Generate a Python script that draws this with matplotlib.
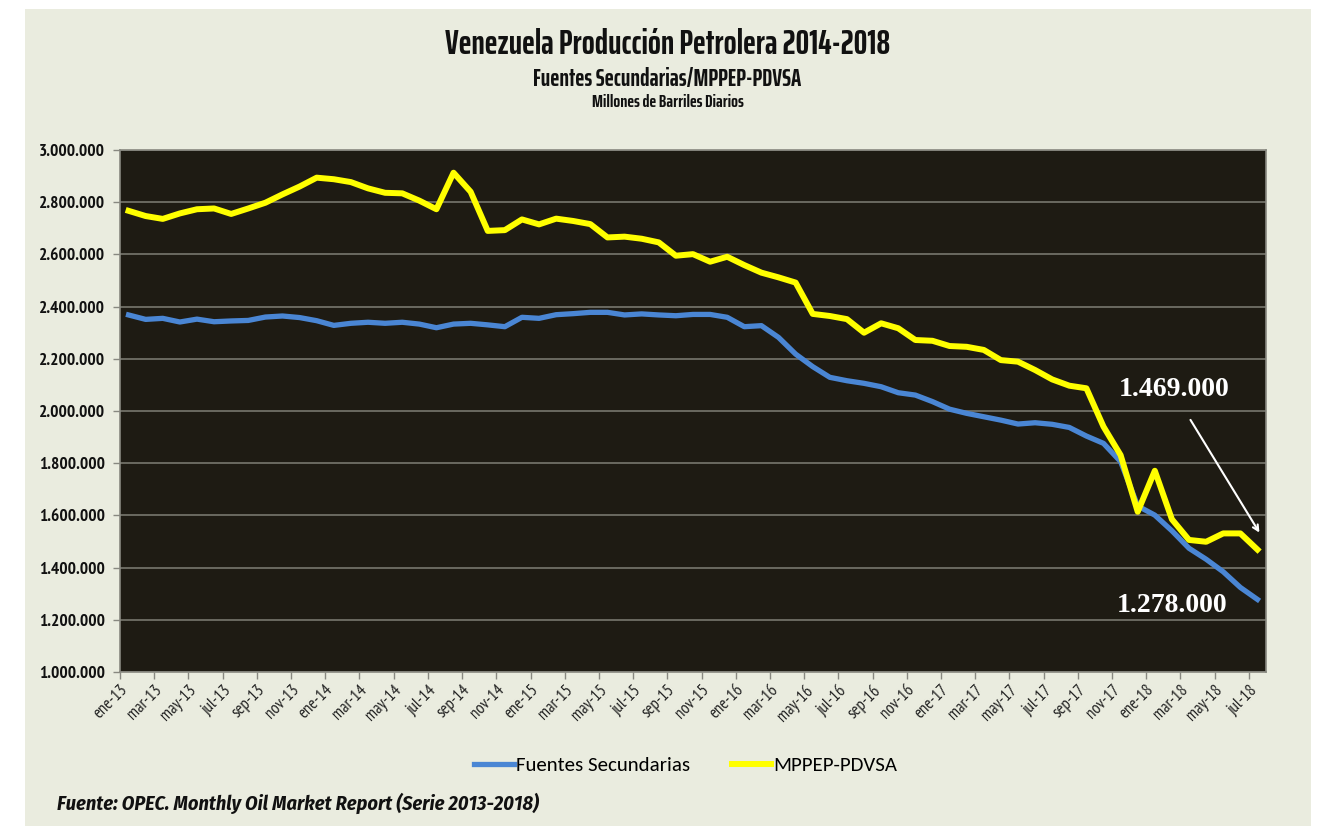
import numpy as np
import matplotlib.pyplot as plt
from matplotlib.patches import Rectangle
from matplotlib.ticker import FuncFormatter

# monthly labels ene-13 .. jul-18
meses = ['ene', 'feb', 'mar', 'abr', 'may', 'jun', 'jul', 'ago', 'sep', 'oct', 'nov', 'dic']
months = [m + '-' + str(y) for y in range(13, 19) for m in meses][:67]

# Fuentes Secundarias (barriles diarios)
secundarias = [2368000, 2351000, 2355000, 2341000, 2352000, 2342000, 2345000, 2347000,
               2360000, 2364000, 2358000, 2346000, 2328000, 2336000, 2340000, 2336000,
               2340000, 2333000, 2319000, 2333000, 2336000, 2330000, 2323000, 2359000,
               2355000, 2369000, 2373000, 2378000, 2378000, 2368000, 2372000, 2368000,
               2365000, 2370000, 2370000, 2359000, 2323000, 2327000, 2282000, 2218000,
               2170000, 2129000, 2116000, 2106000, 2093000, 2070000, 2061000, 2036000,
               2007000, 1991000, 1978000, 1965000, 1950000, 1955000, 1949000, 1937000,
               1904000, 1876000, 1806000, 1636000, 1601000, 1541000, 1474000, 1432000,
               1384000, 1324000, 1278000]

# MPPEP-PDVSA
pdvsa = [2767000, 2747000, 2736000, 2757000, 2773000, 2776000, 2755000, 2776000,
         2798000, 2830000, 2860000, 2894000, 2888000, 2877000, 2853000, 2836000,
         2834000, 2806000, 2773000, 2913000, 2840000, 2690000, 2693000, 2734000,
         2715000, 2737000, 2728000, 2716000, 2665000, 2668000, 2660000, 2646000,
         2595000, 2601000, 2572000, 2591000, 2559000, 2530000, 2512000, 2492000,
         2372000, 2364000, 2352000, 2300000, 2336000, 2317000, 2272000, 2269000,
         2249000, 2246000, 2234000, 2195000, 2189000, 2157000, 2121000, 2097000,
         2087000, 1940000, 1831000, 1614000, 1771000, 1585000, 1506000, 1499000,
         1531000, 1531000, 1469000]

narrow = ['PT Sans Narrow', 'Fira Sans Condensed', 'DejaVu Sans']
footfont = ['Fira Sans Condensed', 'Roboto Condensed', 'DejaVu Sans']
display = ['Saira ExtraCondensed', 'Oswald', 'DejaVu Sans']
serif = ['Liberation Serif', 'DejaVu Serif']
bg = '#eaecdf'
x = np.arange(len(months))

fig = plt.figure(figsize=(13.22, 8.27), dpi=100)
fig.patch.set_facecolor('white')
# light panel behind the chart
fig.patches.append(Rectangle((25/1322, 1 - 826/827), (1311-25)/1322, (826-9)/827,
                             transform=fig.transFigure, facecolor=bg, edgecolor='none', zorder=-5))

ax = fig.add_axes([120/1322, 1 - 672/827, (1266-120)/1322, (672-150)/827])
ax.set_facecolor('#1e1b13')
ax.plot(x, secundarias, color='#4a86d4', lw=3.8, solid_joinstyle='round', label='Fuentes Secundarias')
ax.plot(x, pdvsa, color='#ffff00', lw=4.3, solid_joinstyle='round', label='MPPEP-PDVSA')

ax.set_xlim(-0.5, len(months) - 0.5)
ax.set_ylim(1000000, 3000000)
ax.set_yticks(np.arange(1000000, 3000001, 200000))
ax.yaxis.set_major_formatter(FuncFormatter(lambda v, p: '{:,.0f}'.format(v).replace(',', '.')))
ax.grid(axis='y', color='#77776e', lw=1.2)
ax.set_axisbelow(True)

ticks = x[::2]
ax.set_xticks(ticks - 0.5)
ax.set_xticklabels([months[i] for i in ticks], rotation=45, ha='right', rotation_mode='anchor',
                   fontsize=12, family=narrow)
for lbl in ax.get_yticklabels():
    lbl.set_family(narrow)
    lbl.set_fontsize(12.5)
    lbl.set_fontweight('bold')
ax.tick_params(axis='both', colors='#888880', length=5, width=1)
ax.tick_params(axis='x', labelcolor='#222222', pad=2)
ax.tick_params(axis='y', labelcolor='#111111', pad=6)
for s in ax.spines.values():
    s.set_color('#888880')
    s.set_linewidth(1.2)

# annotations
ax.text(57.9, 2084000, '1.469.000', color='white', fontsize=20, fontweight='bold',
        family=serif, va='center', ha='left')
ax.annotate('', xy=(66.2, 1525000), xytext=(62.0, 1975000),
            arrowprops=dict(arrowstyle='->', color='white', lw=1.5))
ax.text(57.8, 1255000, '1.278.000', color='white', fontsize=20, fontweight='bold',
        family=serif, va='center', ha='left')

fig.text(0.505, 1 - 45/827, 'Venezuela Producción Petrolera 2014-2018', ha='center', va='center',
         fontsize=24.5, fontweight='bold', family=display, color='#111111')
fig.text(0.505, 1 - 79/827, 'Fuentes Secundarias/MPPEP-PDVSA', ha='center', va='center',
         fontsize=17.5, fontweight='bold', family=display, color='#111111')
fig.text(0.505, 1 - 102/827, 'Millones de Barriles Diarios', ha='center', va='center',
         fontsize=13, fontweight='bold', family=display, color='#111111')

leg = fig.legend(loc='center', bbox_to_anchor=(686/1322, 1 - 765/827), ncol=2, frameon=False,
                 handlelength=1.9, handletextpad=0.1, columnspacing=2.0,
                 prop={'family': ['Carlito', 'Open Sans', 'DejaVu Sans'], 'size': 15})

fig.text(57/1322, 1 - 803/827, 'Fuente: OPEC. Monthly Oil Market Report (Serie 2013-2018)',
         ha='left', va='center', fontsize=14.5, fontweight='bold', style='italic',
         family=footfont, color='#111111')

plt.savefig('out.png', dpi=100, facecolor=fig.get_facecolor())
